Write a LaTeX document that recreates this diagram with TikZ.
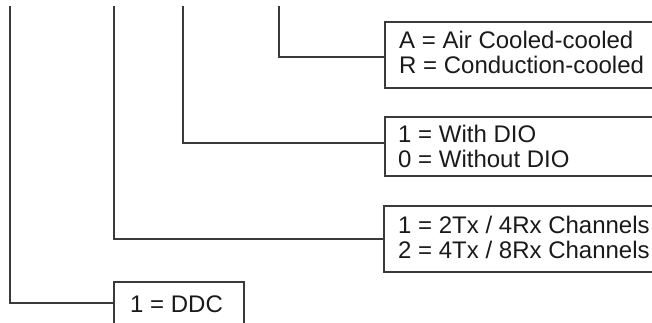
\documentclass[tikz,border=0pt]{standalone}
\usepackage{fontspec}
\setmainfont{Liberation Sans}
\definecolor{linec}{HTML}{3A3A3A}
\definecolor{txtc}{HTML}{1A1A1A}
\begin{document}
\begin{tikzpicture}[x=1pt,y=1pt,
  box/.style={draw=linec, line width=1.1pt, anchor=north west, inner sep=0pt, outer sep=0pt, rectangle},
  conn/.style={draw=linec, line width=1.1pt},
  lbl/.style={anchor=base west, inner sep=0pt, text=txtc, font=\fontsize{24}{24}\selectfont}]
\useasboundingbox (0,0) rectangle (652,322);
\clip (0,0) rectangle (652,322);
% boxes
\node[box, minimum width=275pt, minimum height=66pt] (boxA) at (385,300) {};
\node[box, minimum width=275pt, minimum height=59pt] (boxD) at (385,205) {};
\node[box, minimum width=276pt, minimum height=66pt] (boxC) at (384,116) {};
\node[box, minimum width=130pt, minimum height=46pt] (boxE) at (114,40) {};
% labels
\node[lbl] (a1) at (399,273) {A = Air Cooled-cooled};
\node[lbl] (a2) at (399,248) {R = Conduction-cooled};
\node[lbl] (d1) at (398,180) {1 = With DIO};
\node[lbl] (d2) at (398,155) {0 = Without DIO};
\node[lbl] (c1) at (398,89) {1 = 2Tx / 4Rx Channels};
\node[lbl] (c2) at (398,64) {2 = 4Tx / 8Rx Channels};
\node[lbl] (e1) at (130,10) {1 = DDC};
% connector tops
\coordinate (v1) at (10,316);
\coordinate (v2) at (114,316);
\coordinate (v3) at (183,316);
\coordinate (v4) at (279,316);
\draw[conn] (v4) |- ([yshift=-2pt]boxA.west);
\draw[conn] (v3) |- ([yshift=3.5pt]boxD.west);
\draw[conn] (v2) |- (boxC.west);
\draw[conn] (v1) |- ([yshift=2pt]boxE.west);
\end{tikzpicture}
\end{document}
